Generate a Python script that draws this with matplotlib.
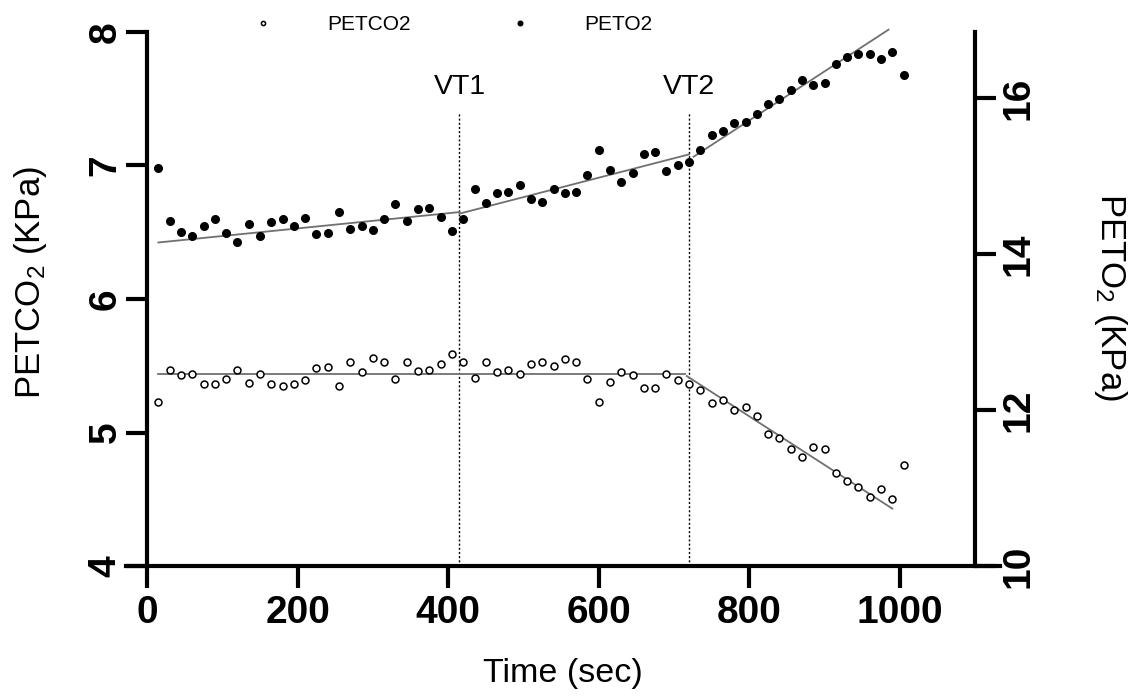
import matplotlib
matplotlib.use('Agg')
import matplotlib.pyplot as plt

plt.rcParams['font.family'] = 'Liberation Sans'
plt.rcParams['mathtext.fontset'] = 'custom'
plt.rcParams['mathtext.rm'] = 'Liberation Sans'
plt.rcParams['mathtext.it'] = 'Liberation Sans:italic'
plt.rcParams['mathtext.bf'] = 'Liberation Sans:bold'

# sample times (sec)
time = [15, 30, 45, 60, 75, 90, 105, 120, 135, 150, 165, 180, 195, 210, 225,
        240, 255, 270, 285, 300, 315, 330, 345, 360, 375, 390, 405, 420, 435,
        450, 465, 480, 495, 510, 525, 540, 555, 570, 585, 600, 615, 630, 645,
        660, 675, 690, 705, 720, 735, 750, 765, 780, 795, 810, 825, 840, 855,
        870, 885, 900, 915, 930, 945, 960, 975, 990, 1005]

# end-tidal CO2 (kPa, left axis)
petco2 = [5.23, 5.47, 5.43, 5.44, 5.36, 5.36, 5.40, 5.47, 5.37, 5.44, 5.36,
          5.35, 5.36, 5.39, 5.48, 5.49, 5.35, 5.53, 5.45, 5.56, 5.53, 5.40,
          5.53, 5.46, 5.47, 5.51, 5.59, 5.53, 5.41, 5.53, 5.45, 5.47, 5.44,
          5.51, 5.53, 5.50, 5.55, 5.53, 5.40, 5.23, 5.38, 5.45, 5.43, 5.33,
          5.33, 5.44, 5.39, 5.36, 5.32, 5.22, 5.24, 5.17, 5.19, 5.12, 4.99,
          4.96, 4.88, 4.82, 4.89, 4.88, 4.70, 4.64, 4.59, 4.52, 4.58, 4.50,
          4.76]

# end-tidal O2 (kPa, right axis)
peto2 = [15.10, 14.42, 14.28, 14.23, 14.36, 14.45, 14.27, 14.16, 14.39, 14.23,
         14.41, 14.45, 14.36, 14.46, 14.26, 14.27, 14.54, 14.32, 14.36, 14.31,
         14.45, 14.64, 14.42, 14.58, 14.59, 14.48, 14.30, 14.45, 14.84, 14.66,
         14.78, 14.80, 14.89, 14.71, 14.67, 14.84, 14.78, 14.80, 15.01, 15.34,
         15.08, 14.92, 15.04, 15.28, 15.31, 15.07, 15.15, 15.18, 15.34, 15.53,
         15.58, 15.68, 15.69, 15.80, 15.92, 15.99, 16.11, 16.23, 16.17, 16.19,
         16.44, 16.53, 16.57, 16.57, 16.50, 16.59, 16.30]

# segmented fits (start/end of each segment)
co2_fit_t = [[15, 715], [717, 990]]
co2_fit_y = [[5.436, 5.436], [5.423, 4.43]]
o2_fit_t = [[15, 415], [415, 720], [726, 985]]
o2_fit_y = [[14.15, 14.54], [14.52, 15.28], [15.25, 16.88]]

thresholds = [415, 720]
threshold_names = ['VT1', 'VT2']

fig = plt.figure(figsize=(11.34, 7), dpi=100)
ax = fig.add_axes([0.1111, 0.1914, 0.7707, 0.7629])
ax2 = ax.twinx()

fitc = '#707070'
for t, y in zip(co2_fit_t, co2_fit_y):
    ax.plot(t, y, color=fitc, lw=1.3, zorder=2)
for t, y in zip(o2_fit_t, o2_fit_y):
    ax2.plot(t, y, color=fitc, lw=1.3, zorder=2, clip_on=False)

h1, = ax.plot(time, petco2, 'o', ls='none', ms=5, mfc='white', mec='black',
              mew=1.1, label='PETCO2', zorder=3)
h2, = ax2.plot(time, peto2, 'o', ls='none', ms=5.5, mfc='black', mec='black',
               label='PETO2', zorder=3)

for t, name in zip(thresholds, threshold_names):
    ax.plot([t, t], [4, 7.39], color='black', lw=1, ls=(0, (1.5, 1.5)), zorder=1)
    ax.text(t, 7.59, name, ha='center', va='center', fontsize=20.5)

ax.set_xlim(-28, 1133)
ax.set_ylim(4, 8)
ax2.set_ylim(10, 16.85)
ax.set_xticks([0, 200, 400, 600, 800, 1000])
ax.set_yticks([4, 5, 6, 7, 8])
ax2.set_yticks([10, 12, 14, 16])

for s in ['top', 'right']:
    ax.spines[s].set_visible(False)
for s in ['top', 'left', 'bottom']:
    ax2.spines[s].set_visible(False)
ax.spines['left'].set_position(('data', 0))
ax2.spines['right'].set_position(('data', 1100))
for sp in [ax.spines['left'], ax.spines['bottom'], ax2.spines['right']]:
    sp.set_linewidth(3)

ax.tick_params(axis='x', length=16, width=3, pad=5, labelsize=28)
ax.tick_params(axis='y', length=15, width=3, pad=2, labelsize=28, labelrotation=90)
ax2.tick_params(axis='y', length=15, width=3, pad=3, labelsize=28, labelrotation=90)
for lab in ax.get_xticklabels() + ax.get_yticklabels() + ax2.get_yticklabels():
    lab.set_fontweight('bold')
for lab in ax.get_yticklabels() + ax2.get_yticklabels():
    lab.set_va('center')

ax.set_xlabel('Time (sec)', fontsize=24.5)
ax.xaxis.set_label_coords(0.5, -0.172)
ax.set_ylabel(r'PETCO$_2$ (KPa)', fontsize=25, va='center')
ax.yaxis.set_label_coords(-0.109, 0.53)
ax2.set_ylabel(r'PETO$_2$ (KPa)', fontsize=25, rotation=-90, va='center')
ax2.yaxis.set_label_coords(1.127, 0.504)

fig.legend([h1, h2], ['PETCO2', 'PETO2'], loc='center',
           bbox_to_anchor=(442 / 1134, 1 - 25 / 700), ncol=2, frameon=False,
           fontsize=15, handlelength=3, handletextpad=1.6, columnspacing=3.75,
           markerscale=0.6)

fig.savefig('out.png', dpi=100)
